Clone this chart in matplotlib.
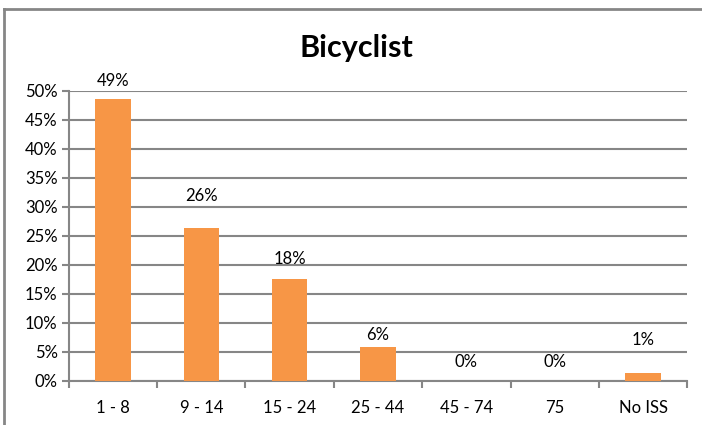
import matplotlib.pyplot as plt
from matplotlib.lines import Line2D
from matplotlib.ticker import MultipleLocator, FuncFormatter
import numpy as np

categories = ['1 - 8', '9 - 14', '15 - 24', '25 - 44', '45 - 74', '75', 'No ISS']
values = [48.5, 26.3, 17.5, 5.9, 0.0, 0.0, 1.3]
labels = ['49%', '26%', '18%', '6%', '0%', '0%', '1%']

# label centre heights above the bar top (data units, as placed in the source)
label_offsets = [3.2, 5.6, 3.4, 2.0, 3.2, 3.2, 5.7]

plt.rcParams['font.family'] = ['Lato', 'DejaVu Sans']

fig = plt.figure(figsize=(7.02, 4.25), dpi=100)
ax = fig.add_axes([0.098, 0.104, 0.881, 0.683])

grid_color = '#868686'
x = np.arange(len(categories))
ax.bar(x, values, width=0.4, color='#F79646', zorder=3)

for xi, v, lab, off in zip(x, values, labels, label_offsets):
    ax.text(xi, v + off, lab, ha='center', va='center', fontsize=12, color='#000000')

ax.set_xlim(-0.5, len(categories) - 0.5)
ax.set_ylim(0, 50)
ax.yaxis.set_major_locator(MultipleLocator(5))
ax.yaxis.set_major_formatter(FuncFormatter(lambda v, p: f'{v:.0f}%'))
ax.set_xticks(x)
ax.set_xticklabels(categories)
ax.set_xticks(np.arange(-0.5, len(categories)), minor=True)

ax.grid(axis='y', color=grid_color, linewidth=1.5, zorder=0)
for s in ['top', 'right']:
    ax.spines[s].set_visible(False)
for s in ['left', 'bottom']:
    ax.spines[s].set_color(grid_color)
    ax.spines[s].set_linewidth(1.5)

ax.tick_params(axis='x', which='major', length=0, pad=14, labelsize=12)
ax.tick_params(axis='x', which='minor', length=5, width=1.5, color=grid_color, direction='out')
ax.tick_params(axis='y', length=5, width=1.5, color=grid_color, labelsize=12, pad=3)

fig.text(0.508, 0.867, 'Bicyclist', ha='center', va='baseline', fontsize=22, fontweight='bold')

# chart-area border (only top and left edges visible in the crop)
fig.add_artist(Line2D([0.0057, 1.0], [0.979, 0.979], transform=fig.transFigure,
                      color=grid_color, linewidth=2))
fig.add_artist(Line2D([0.0057, 0.0057], [0.0, 0.979], transform=fig.transFigure,
                      color=grid_color, linewidth=2))

fig.savefig('out.png', dpi=100)
